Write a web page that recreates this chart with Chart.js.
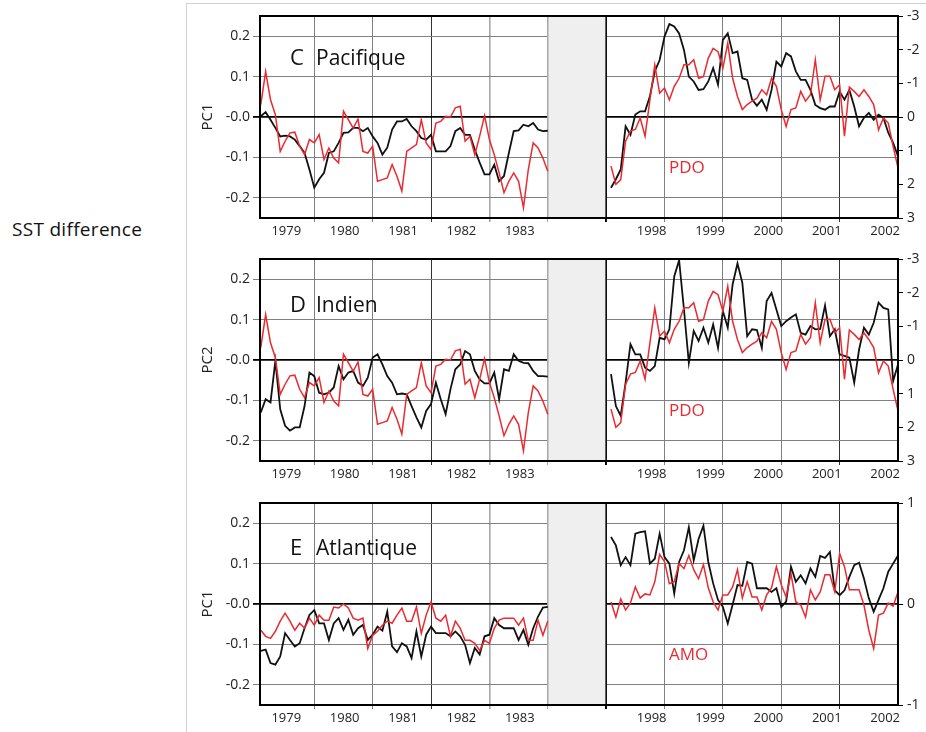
<!DOCTYPE html>
<html>
<head>
<meta charset="utf-8">
<script src="https://cdn.jsdelivr.net/npm/chart.js@4.4.1/dist/chart.umd.min.js"></script>
<style>
  html, body { margin: 0; padding: 0; background: #fff; }
  body { width: 926px; height: 732px; position: relative; overflow: hidden; font-family: "Open Sans", sans-serif; }
  #frame { position: absolute; left: 186px; top: 3px; right: 0; bottom: 0; border-left: 1px solid #d2d2d2; border-top: 1px solid #d2d2d2; }
  #side { position: absolute; left: 12px; top: 216px; font-size: 19px; letter-spacing: 0.3px; color: #111; white-space: nowrap; }
  canvas { position: absolute; left: 187px; }
</style>
</head>
<body>
<div id="frame"></div>
<div id="side">SST difference</div>
<canvas id="pac" width="739" height="243" style="top:0px"></canvas>
<canvas id="ind" width="739" height="243" style="top:243px"></canvas>
<canvas id="atl" width="739" height="243" style="top:487px"></canvas>
<script>
// Monthly series, first value = February of the segment's first year.
const earlyYears = [1979, 1980, 1981, 1982, 1983];
const lateYears  = [1998, 1999, 2000, 2001, 2002];
const earlyStart = 1979 + 1 / 12;
const lateStart  = 1998 + 1 / 12;

const pcTicks  = [-0.2, -0.1, 0, 0.1, 0.2];
const pdoTicks = [-3, -2, -1, 0, 1, 2, 3];
const amoTicks = [-1, 0, 1];

// PDO index (plotted on an inverted right axis)
const pdoEarly = [-0.37,-1.35,-0.51,-0.07,1.02,0.72,0.47,0.45,0.87,1.12,
  0.67,0.77,0.52,1.26,0.92,1.22,1.36,-0.17,0.08,0.33,
  0.06,1.02,1.07,0.87,1.91,1.86,1.81,1.41,1.76,2.2,
  1.02,0.92,0.82,0.08,0.77,0.97,0.18,0.13,-0.02,0,
  -0.27,-0.32,0.72,0.57,1.12,0.57,-0.04,0.67,1.12,1.66,
  2.25,1.91,1.66,1.91,2.7,1.56,0.77,0.92,1.22,1.61];
const pdoLate = [1.46,2.0,1.86,0.72,0.42,0.37,0.03,0.57,-0.51,-1.55,
  -0.71,-0.86,-0.51,-0.91,-1.15,-1.55,-1.55,-1.70,-1.15,-1.20,
  -1.75,-2.04,-1.94,-1.45,-2.19,-1.15,-0.61,-0.22,-0.37,-0.47,
  -0.56,-0.81,-0.66,-1.15,-0.91,-0.22,0.28,-0.22,-0.27,-0.76,
  -0.47,-0.66,-1.70,-0.51,-1.21,-1.21,-0.81,-0.96,0.57,-0.89,
  -0.76,-0.61,-0.81,-0.61,-0.37,0.38,0.03,0.18,0.87,1.51];

// AMO index
const amoEarly = [-0.26,-0.32,-0.34,-0.27,-0.17,-0.09,-0.17,-0.26,-0.19,-0.24,
  -0.14,-0.21,-0.11,-0.16,-0.16,-0.03,-0.04,0.00,-0.04,-0.14,
  -0.16,-0.14,-0.44,-0.31,-0.27,-0.21,-0.17,-0.19,-0.11,-0.04,
  -0.17,-0.17,-0.03,-0.29,-0.11,0.02,-0.14,-0.17,-0.11,-0.32,
  -0.17,-0.24,-0.36,-0.36,-0.39,-0.46,-0.36,-0.39,-0.24,-0.16,
  -0.14,-0.14,-0.14,-0.21,-0.14,-0.36,-0.36,-0.16,-0.31,-0.17];
const amoLate = [0.02,-0.13,0.05,-0.06,0.01,0.17,0.06,0.10,0.09,0.22,
  0.49,0.42,0.20,0.22,0.40,0.35,0.48,0.34,0.25,0.39,
  0.16,0.02,-0.06,0.09,0.09,0.17,0.34,0.06,0.22,0.07,
  0.07,-0.06,0.09,0.16,0.37,0.19,0.07,0.30,0.02,-0.01,
  -0.13,0.14,0.04,0.12,0.29,0.29,0.12,0.50,0.37,0.14,
  0.14,0.14,-0.01,-0.26,-0.44,-0.11,-0.09,0.01,-0.02,0.12];

// Principal components of the SST difference
const pcPacEarly = [0.002,0.012,-0.007,-0.027,-0.048,-0.046,-0.048,-0.056,-0.072,-0.089,
  -0.130,-0.175,-0.154,-0.138,-0.089,-0.085,-0.064,-0.039,-0.038,-0.027,
  -0.027,-0.035,-0.027,-0.048,-0.064,-0.093,-0.076,-0.031,-0.011,-0.011,
  -0.005,-0.023,-0.035,-0.052,-0.056,-0.044,-0.085,-0.085,-0.085,-0.072,
  -0.035,-0.027,-0.044,-0.044,-0.081,-0.113,-0.142,-0.142,-0.118,-0.159,
  -0.146,-0.089,-0.035,-0.033,-0.019,-0.023,-0.015,-0.031,-0.035,-0.034];
const pcPacLate = [-0.175,-0.154,-0.130,-0.023,-0.044,0.006,0.014,0.014,0.051,0.113,
  0.141,0.199,0.230,0.224,0.207,0.166,0.100,0.088,0.067,0.069,
  0.088,0.121,0.080,0.191,0.207,0.158,0.162,0.096,0.092,0.043,
  0.028,0.043,0.018,0.067,0.137,0.125,0.158,0.150,0.113,0.092,
  0.092,0.067,0.030,0.022,0.018,0.026,0.026,0.063,0.043,0.067,
  0.026,-0.023,-0.002,0.010,-0.007,0.006,-0.002,-0.039,-0.064,-0.097];
const pcIndEarly = [-0.130,-0.097,-0.105,-0.002,-0.122,-0.163,-0.175,-0.167,-0.167,-0.114,
  -0.031,-0.040,-0.081,-0.085,-0.081,-0.068,-0.015,-0.048,-0.031,-0.027,
  -0.056,-0.064,-0.044,0.006,0.014,-0.011,-0.040,-0.056,-0.085,-0.083,
  -0.085,-0.114,-0.142,-0.167,-0.126,-0.109,-0.056,-0.097,-0.134,-0.072,
  -0.023,-0.011,0.022,0.014,-0.027,-0.048,-0.058,-0.058,-0.031,-0.097,
  -0.023,-0.027,0.014,-0.002,-0.007,-0.008,-0.027,-0.040,-0.040,-0.041];
const pcIndLate = [-0.035,-0.114,-0.138,-0.056,0.039,0.014,0.014,-0.019,-0.027,-0.015,
  0.055,0.051,0.076,0.207,0.247,0.125,-0.007,0.072,0.047,0.080,
  0.043,0.088,0.030,0.121,0.080,0.187,0.239,0.191,0.059,0.076,
  0.074,0.030,0.146,0.166,0.125,0.084,0.096,0.105,0.113,0.067,
  0.063,0.084,0.076,0.077,0.135,0.059,0.076,0.014,0.010,0.006,
  -0.056,0.026,0.080,0.063,0.092,0.142,0.129,0.125,-0.052,-0.011];
const pcAtlEarly = [-0.116,-0.113,-0.146,-0.150,-0.130,-0.072,-0.089,-0.105,-0.097,-0.060,
  -0.027,-0.015,-0.048,-0.048,-0.089,-0.048,-0.035,-0.064,-0.039,-0.076,
  -0.060,-0.052,-0.089,-0.076,-0.056,-0.066,-0.019,-0.105,-0.119,-0.097,
  -0.105,-0.134,-0.068,-0.130,-0.076,-0.056,-0.072,-0.072,-0.072,-0.080,
  -0.068,-0.080,-0.101,-0.146,-0.109,-0.125,-0.080,-0.076,-0.035,-0.052,
  -0.060,-0.060,-0.060,-0.089,-0.064,-0.101,-0.060,-0.031,-0.009,-0.007];
const pcAtlLate = [0.166,0.145,0.096,0.116,0.096,0.174,0.178,0.180,0.100,0.112,
  0.174,0.116,0.100,0.026,0.104,0.133,0.190,0.108,0.161,0.194,
  0.104,0.051,0.010,-0.007,-0.048,-0.002,0.047,0.045,0.104,0.100,
  0.039,0.039,0.039,0.030,0.039,-0.007,0.006,0.092,0.055,0.071,
  0.051,0.088,0.067,0.119,0.114,0.129,0.034,0.022,0.034,0.067,
  0.096,0.102,0.063,0.014,-0.019,0.010,0.039,0.080,0.100,0.120];

const RED = '#ea2a30';
const BLACK = '#111';

// Broken time axis: 1979-1984 occupies [0,5], a one-unit gap, then 1998-2003 on [6,11].
function axisPos(t) { return t < 1990 ? t - 1979 : t - 1998 + 6; }
function monthly(start, values) {
  return values.map((v, i) => ({ x: axisPos(start + i / 12), y: v }));
}

// Year labels sit inside each year's interval; integer positions carry the grid lines.
const yearLabelAt = new Map();
earlyYears.forEach(y => yearLabelAt.set(+(axisPos(y) + 0.52).toFixed(3), String(y)));
lateYears.forEach(y => yearLabelAt.set(+(axisPos(y) + 0.78).toFixed(3), String(y)));

function gridColor(v) {
  if (yearLabelAt.has(+v.toFixed(3))) return 'rgba(0,0,0,0)';
  if (v === 6) return '#000';
  if (v === 3 || v === 10) return '#333';
  if (v === 4 || v === 5) return '#a8a8a8';
  return '#808080';
}

const panelDecor = {
  id: 'panelDecor',
  beforeDatasetsDraw(chart) {
    const { ctx, chartArea: a, scales: { x } } = chart;
    const x5 = x.getPixelForValue(5), x6 = x.getPixelForValue(6);
    ctx.save();
    ctx.fillStyle = '#efefef';
    ctx.fillRect(x5, a.top, x6 - x5, a.bottom - a.top);
    ctx.strokeStyle = '#a8a8a8'; ctx.lineWidth = 1.5;
    ctx.beginPath(); ctx.moveTo(x5, a.top); ctx.lineTo(x5, a.bottom); ctx.stroke();
    ctx.strokeStyle = '#000'; ctx.lineWidth = 1.5;
    ctx.beginPath(); ctx.moveTo(x6, a.top); ctx.lineTo(x6, a.bottom + 4); ctx.stroke();
    ctx.restore();
  },
  afterDraw(chart) {
    const { ctx, chartArea: a } = chart;
    const o = chart.options.plugins.panelDecor;
    ctx.save();
    ctx.strokeStyle = '#000'; ctx.lineWidth = 2;
    ctx.strokeRect(a.left, a.top, a.right - a.left, a.bottom - a.top);
    ctx.textBaseline = 'alphabetic';
    ctx.fillStyle = '#111';
    ctx.font = '22px "Open Sans"';
    ctx.fillText(o.letter, a.left + 30, a.top + o.titleDy);
    ctx.font = '21px "Open Sans"';
    ctx.fillText(o.name, a.left + 56, a.top + o.titleDy);
    ctx.fillStyle = RED;
    ctx.font = '17px "Open Sans"';
    ctx.fillText(o.index, a.left + 409, a.top + 157);
    ctx.restore();
  }
};

function makePanel(id, o) {
  new Chart(document.getElementById(id), {
    type: 'line',
    data: {
      datasets: [
        { data: monthly(earlyStart, o.idxEarly), yAxisID: 'y2', borderColor: RED, borderWidth: 1.5, order: 0 },
        { data: monthly(lateStart, o.idxLate), yAxisID: 'y2', borderColor: RED, borderWidth: 1.5, order: 0 },
        { data: monthly(earlyStart, o.pcEarly), yAxisID: 'y', borderColor: BLACK, borderWidth: 1.8, order: 1 },
        { data: monthly(lateStart, o.pcLate), yAxisID: 'y', borderColor: BLACK, borderWidth: 1.8, order: 1 }
      ]
    },
    options: {
      responsive: false,
      animation: false,
      devicePixelRatio: 1,
      layout: { padding: { top: 16, left: 0, right: 0, bottom: 0 } },
      elements: { point: { radius: 0 }, line: { tension: 0 } },
      plugins: {
        legend: { display: false },
        tooltip: { enabled: false },
        panelDecor: { letter: o.letter, name: o.name, index: o.indexName, titleDy: o.titleDy }
      },
      scales: {
        x: {
          type: 'linear', min: 0.07, max: 11,
          afterFit(s) { s.height = 25; },
          afterBuildTicks(s) {
            const t = [];
            for (let v = 1; v <= 10; v++) t.push({ value: v });
            yearLabelAt.forEach((_, v) => t.push({ value: v }));
            t.sort((a, b) => a.value - b.value);
            s.ticks = t;
          },
          ticks: {
            autoSkip: false, maxRotation: 0, padding: 1,
            color: '#222', font: { family: 'Open Sans', size: 13 },
            callback: v => yearLabelAt.get(+Number(v).toFixed(3)) || ''
          },
          grid: {
            color: c => gridColor(c.tick.value),
            lineWidth: c => (c.tick.value === 6 ? 1.5 : (c.tick.value === 4 ? 1.6 : 1)),
            tickLength: 4
          },
          border: { display: true, color: '#000', width: 2 }
        },
        y: {
          position: 'left', min: -0.25, max: 0.25,
          afterFit(s) { s.width = 73; },
          afterBuildTicks(s) { s.ticks = pcTicks.map(v => ({ value: v })); },
          ticks: {
            padding: 3, color: '#222', font: { family: 'Open Sans', size: 14 },
            callback: v => (v === 0 ? '-0.0' : Number(v).toFixed(1))
          },
          grid: {
            color: c => (c.tick.value === 0 ? '#000' : '#808080'),
            lineWidth: c => (c.tick.value === 0 ? 1.8 : 1),
            tickLength: 7
          },
          border: { display: true, color: '#000', width: 2 },
          title: { display: true, text: o.pcName, color: '#222', font: { family: 'Open Sans', size: 15 }, padding: { top: 12, bottom: 0 } }
        },
        y2: {
          position: 'right', min: o.idxMin, max: o.idxMax, reverse: o.idxReverse,
          afterFit(s) { s.width = 28; },
          afterBuildTicks(s) { s.ticks = o.idxTicks.map(v => ({ value: v })); },
          ticks: { padding: 4, color: '#222', font: { family: 'Open Sans', size: 14 }, callback: v => String(v) },
          grid: { drawOnChartArea: false, color: '#000', tickLength: 5 },
          border: { display: true, color: '#000', width: 2 }
        }
      }
    },
    plugins: [panelDecor]
  });
}

makePanel('pac', {
  letter: 'C', name: 'Pacifique', indexName: 'PDO', pcName: 'PC1', titleDy: 49,
  pcEarly: pcPacEarly, pcLate: pcPacLate, idxEarly: pdoEarly, idxLate: pdoLate,
  idxMin: -3, idxMax: 3, idxReverse: true, idxTicks: pdoTicks
});
makePanel('ind', {
  letter: 'D', name: 'Indien', indexName: 'PDO', pcName: 'PC2', titleDy: 53,
  pcEarly: pcIndEarly, pcLate: pcIndLate, idxEarly: pdoEarly, idxLate: pdoLate,
  idxMin: -3, idxMax: 3, idxReverse: true, idxTicks: pdoTicks
});
makePanel('atl', {
  letter: 'E', name: 'Atlantique', indexName: 'AMO', pcName: 'PC1', titleDy: 52,
  pcEarly: pcAtlEarly, pcLate: pcAtlLate, idxEarly: amoEarly, idxLate: amoLate,
  idxMin: -1, idxMax: 1, idxReverse: false, idxTicks: amoTicks
});
</script>
</body>
</html>
